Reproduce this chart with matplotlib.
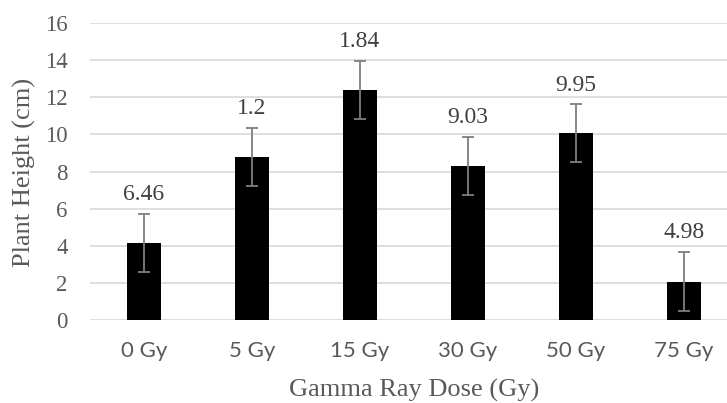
import numpy as np
import matplotlib.pyplot as plt

doses = ['0 Gy', '5 Gy', '15 Gy', '30 Gy', '50 Gy', '75 Gy']
height = [4.15, 8.8, 12.4, 8.3, 10.05, 2.07]          # plant height (cm)
err = [1.56, 1.57, 1.55, 1.57, 1.56, 1.58]             # error bar half-length
labels = ['6.46', '1.2', '1.84', '9.03', '9.95', '4.98']  # data labels as printed

W, H = 727, 403
fig = plt.figure(figsize=(W / 100, H / 100), dpi=100)
ax = fig.add_axes([90/W, 1 - 320/H, 1 - 90/W, 297/H])

x = np.arange(len(doses))
ax.bar(x, height, width=0.315, color='black', zorder=3)
ax.errorbar(x, height, yerr=err, fmt='none', ecolor='#7f7f7f', elinewidth=1.3,
            capsize=4.5, capthick=1.3, zorder=4)

for xi, h, e, lab in zip(x, height, err, labels):
    ax.annotate(lab, (xi, h + e), xytext=(0, 10), textcoords='offset points',
                ha='center', va='baseline', fontsize=17, family='Liberation Serif',
                color='#404040')

ax.set_ylim(0, 16)
ax.set_xlim(-0.5, 5.4)
ax.set_yticks(np.arange(0, 17, 2))
ax.set_xticks(x)
ax.set_xticklabels(doses, family='Lato', fontsize=16, color='#595959')
for t in ax.get_yticklabels():
    t.set_family('Liberation Serif')
    t.set_fontsize(16.5)
    t.set_color('#595959')
ax.tick_params(length=0)
ax.tick_params(axis='x', pad=15)
ax.tick_params(axis='y', pad=16)
ax.grid(axis='y', color='#d9d9d9', linewidth=1.2, zorder=0)
for s in ax.spines.values():
    s.set_visible(False)

fig.text(414/W, 1 - 390/H, 'Gamma Ray Dose (Gy)', family='Liberation Serif',
         fontsize=19, color='#595959', ha='center', va='center')
fig.text(24/W, 1 - 172/H, 'Plant Height (cm)', family='Liberation Serif',
         fontsize=19, color='#595959', ha='center', va='center', rotation=90)

fig.savefig('out.png', dpi=100)
